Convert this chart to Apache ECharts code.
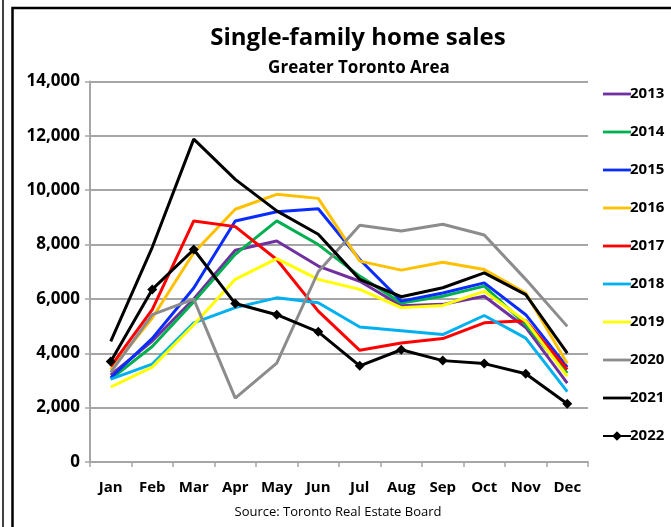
<!DOCTYPE html>
<html><head><meta charset="utf-8">
<script src="https://cdn.jsdelivr.net/npm/echarts@6/dist/echarts.min.js"></script>
<style>html,body{margin:0;padding:0;background:#fff}#c{width:671px;height:527px}</style>
</head><body><div id="c"></div>
<script>
const months = ['Jan','Feb','Mar','Apr','May','Jun','Jul','Aug','Sep','Oct','Nov','Dec'];
const yTicks = [0,2000,4000,6000,8000,10000,12000,14000];
const s2013 = [3200,4450,6000,7790,8130,7210,6650,5750,5800,6100,4950,2900];
const s2014 = [3050,4250,5900,7640,8870,8000,6840,5850,6100,6470,5050,3270];
const s2015 = [3100,4550,6400,8870,9210,9320,7450,5920,6220,6590,5420,3490];
const s2016 = [3400,5300,7700,9300,9850,9700,7390,7060,7350,7080,6220,3620];
const s2017 = [3520,5610,8870,8660,7450,5550,4110,4380,4540,5120,5200,3400];
const s2018 = [3050,3600,5120,5680,6040,5860,4970,4830,4690,5390,4560,2590];
const s2019 = [2760,3490,5050,6720,7480,6720,6350,5680,5760,6280,5180,3150];
const s2020 = [3300,5420,5990,2350,3640,7000,8710,8500,8750,8350,6720,4990];
const s2021 = [4440,7900,11880,10400,9240,8380,6720,6080,6410,6960,6160,4010];
const s2022 = [3700,6350,7820,5830,5420,4790,3540,4130,3730,3620,3250,2140];
const seriesNames = ['2013','2014','2015','2016','2017','2018','2019','2020','2021','2022'];
const seriesData = [s2013,s2014,s2015,s2016,s2017,s2018,s2019,s2020,s2021,s2022];
const colors = ['#7030a0','#00b050','#0a2cff','#ffc000','#ff0000','#00b0f0','#ffff00','#8c8c8c','#000000','#000000'];

const FONT = 'Open Sans';
const chart = echarts.init(document.getElementById('c'));
const series = seriesNames.map((n,i)=>({
  name:n, type:'line', data:seriesData[i],
  symbol: n==='2022' ? 'diamond' : 'none',
  symbolSize: n==='2022' ? 10 : 0,
  showSymbol: n==='2022',
  itemStyle:{color:colors[i]},
  lineStyle:{color:colors[i], width:3},
  emphasis:{disabled:true},
  animation:false
}));
const legendData = seriesNames.map(n => n==='2022' ? {name:n} : {name:n, icon:'path://M0,0H100V10H0Z'});
chart.setOption({
  animation:false,
  textStyle:{fontFamily:FONT},
  title:[
    {text:'Single-family home sales', left:353, top:21, textAlign:'center',
     textStyle:{fontFamily:FONT,fontSize:24,fontWeight:'bold',color:'#000'}},
    {text:'Greater Toronto Area', left:354, top:55, textAlign:'center',
     textStyle:{fontFamily:FONT,fontSize:17,fontWeight:'bold',color:'#000'}},
    {text:'Source: Toronto Real Estate Board', left:333, top:501, textAlign:'center',
     textStyle:{fontFamily:FONT,fontSize:13,fontWeight:'normal',color:'#000'}}
  ],
  legend:{
    orient:'vertical', left:597, top:78, itemWidth:28, itemHeight:12, itemGap:16,
    textStyle:{fontFamily:FONT,fontSize:15,fontWeight:'bold',color:'#000',padding:[0,0,0,-6],lineHeight:22},
    data:legendData
  },
  grid:{left:90, right:83, top:81.5, bottom:65, containLabel:false},
  xAxis:{
    type:'category', data:months, boundaryGap:true,
    axisLine:{lineStyle:{color:'#a6a6a6',width:2}},
    axisTick:{show:true, alignWithLabel:false, length:5, lineStyle:{color:'#a6a6a6',width:1.5}},
    axisLabel:{fontFamily:FONT,fontSize:15,fontWeight:'bold',color:'#000',margin:18}
  },
  yAxis:{
    type:'value', min:yTicks[0], max:yTicks[yTicks.length-1], interval:2000,
    axisLine:{show:true,lineStyle:{color:'#a6a6a6',width:2}},
    axisTick:{show:true,length:5,lineStyle:{color:'#a6a6a6',width:1.5}},
    splitLine:{lineStyle:{color:'#a6a6a6',width:2}},
    axisLabel:{fontFamily:FONT,fontSize:17,fontWeight:'bold',color:'#000',margin:10,
      formatter:v=>v.toLocaleString('en-US')}
  },
  graphic:[
    {type:'line', shape:{x1:3,y1:0,x2:3,y2:527}, style:{stroke:'#000',lineWidth:1.5}, silent:true},
    {type:'rect', shape:{x:12.5,y:8,width:700,height:600}, style:{fill:'none',stroke:'#000',lineWidth:2.5}, silent:true}
  ],
  series:series
});
</script></body></html>
